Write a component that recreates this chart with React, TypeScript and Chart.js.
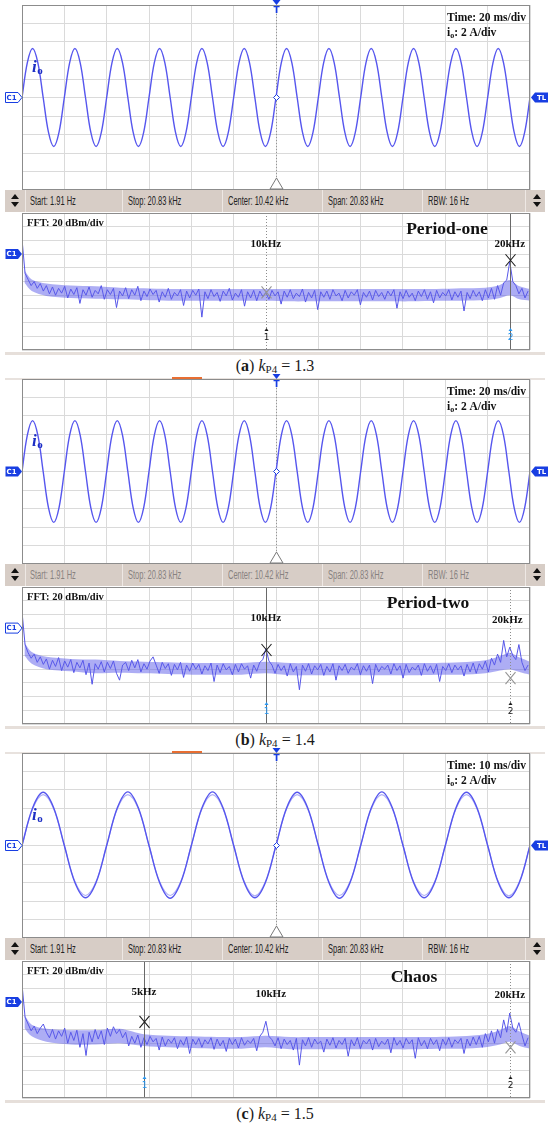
import React, { useEffect, useRef } from "react";
import { Chart, registerables } from "chart.js";

Chart.register(...registerables);

const TRACE_BLUE = "rgb(86,86,238)";
const FFT_BLUE = "rgba(78,78,232,0.95)";
const BAND_FILL = "rgba(92,92,234,0.5)";
const TAG_BLUE = "rgb(24,62,226)";
const LABEL_BLUE = "rgb(28,46,196)";
const MARK_NUM_BLUE = "rgb(40,150,240)";
const GRID_GRAY = "rgb(218,218,218)";
const FRAME_GRAY = "rgb(140,140,140)";
const BAR_BG = "rgb(215,205,198)";
const SERIF = "'Liberation Serif', 'Times New Roman', serif";

// ---------- time domain: i_o samples every 2.5 ms (A) ----------
const TIME_SAMPLE_MS = 2.5;
const TIME_DIV_MS = [20, 20, 10];
const IO_A = [
  0, 3.75, 5.3, 3.75, 0, -3.75, -5.3, -3.75,
  0, 3.75, 5.3, 3.75, 0, -3.75, -5.3, -3.75,
  0, 3.75, 5.3, 3.75, 0, -3.75, -5.3, -3.75,
  0, 3.75, 5.3, 3.75, 0, -3.75, -5.3, -3.75,
  0, 3.75, 5.3, 3.75, 0, -3.75, -5.3, -3.75,
  0, 3.75, 5.3, 3.75, 0, -3.75, -5.3, -3.75,
  0, 3.75, 5.3, 3.75, 0, -3.75, -5.3, -3.75,
  0, 3.75, 5.3, 3.75, 0, -3.75, -5.3, -3.75,
  0, 3.75, 5.3, 3.75, 0, -3.75, -5.3, -3.75,
  0, 3.75, 5.3, 3.75, 0, -3.75, -5.3, -3.75,
  0, 3.75, 5.3, 3.75, 0, -3.75, -5.3, -3.75,
  0, 3.75, 5.3, 3.75, 0, -3.75, -5.3, -3.75,
  0,
];
const IO_B = [
  0, 3.9, 5.5, 3.9, 0, -3.9, -5.5, -3.9,
  0, 3.9, 5.5, 3.9, 0, -3.9, -5.5, -3.9,
  0, 3.9, 5.5, 3.9, 0, -3.9, -5.5, -3.9,
  0, 3.9, 5.5, 3.9, 0, -3.9, -5.5, -3.9,
  0, 3.9, 5.5, 3.9, 0, -3.9, -5.5, -3.9,
  0, 3.9, 5.5, 3.9, 0, -3.9, -5.5, -3.9,
  0, 3.9, 5.5, 3.9, 0, -3.9, -5.5, -3.9,
  0, 3.9, 5.5, 3.9, 0, -3.9, -5.5, -3.9,
  0, 3.9, 5.5, 3.9, 0, -3.9, -5.5, -3.9,
  0, 3.9, 5.5, 3.9, 0, -3.9, -5.5, -3.9,
  0, 3.9, 5.5, 3.9, 0, -3.9, -5.5, -3.9,
  0, 3.9, 5.5, 3.9, 0, -3.9, -5.5, -3.9,
  0,
];
const IO_C_OUTER = [
  0, 4.05, 5.75, 4.05, 0, -4.0, -5.65, -4.0,
  0, 4.05, 5.8, 4.05, 0, -4.0, -5.7, -4.0,
  0, 4.05, 5.8, 4.05, 0, -4.0, -5.65, -4.0,
  0, 4.05, 5.75, 4.05, 0, -4.0, -5.7, -4.0,
  0, 4.05, 5.8, 4.05, 0, -4.0, -5.65, -4.0,
  0, 4.05, 5.75, 4.05, 0, -4.0, -5.65, -4.0,
  0,
];
const IO_C_INNER = [
  0, 3.95, 5.5, 3.95, 0, -3.9, -5.4, -3.9,
  0, 3.95, 5.5, 3.95, 0, -3.9, -5.4, -3.9,
  0, 3.95, 5.5, 3.95, 0, -3.9, -5.45, -3.9,
  0, 3.95, 5.5, 3.95, 0, -3.9, -5.4, -3.9,
  0, 3.95, 5.5, 3.95, 0, -3.9, -5.4, -3.9,
  0, 3.95, 5.5, 3.95, 0, -3.9, -5.45, -3.9,
  0,
];

// ---------- FFT spectra: bins every 0.125 kHz (dBm, 20 dBm/div) ----------
const FFT_SPAN_KHZ = 20.83;
const FFT_BIN_KHZ = 0.125;
const FFT_A = [
  2, -48, -57, -66, -60, -70, -63, -74, -66, -78,
  -68, -80, -70, -77, -67, -84, -71, -79, -69, -92,
  -72, -80, -68, -83, -73, -78, -66, -86, -72, -79,
  -70, -98, -74, -81, -69, -85, -72, -80, -67, -88,
  -74, -82, -71, -79, -73, -90, -75, -83, -70, -86,
  -76, -81, -72, -95, -74, -84, -73, -80, -71, -112,
  -75, -85, -72, -82, -76, -89, -74, -81, -70, -87,
  -77, -83, -72, -96, -75, -84, -73, -88, -74, -82,
  -76, -86, -73, -81, -75, -93, -74, -83, -72, -85,
  -77, -82, -71, -90, -76, -84, -73, -101, -75, -83,
  -74, -86, -72, -81, -77, -88, -73, -84, -75, -80,
  -72, -94, -76, -83, -74, -87, -73, -82, -76, -86,
  -74, -81, -72, -99, -75, -85, -73, -83, -77, -88,
  -74, -82, -72, -86, -75, -91, -73, -84, -76, -81,
  -72, -87, -75, -83, -74, -103, -76, -85, -73, -82,
  -75, -88, -72, -84, -70, -86, -66, -80, -62, -58,
  -31, -60, -66, -78, -70, -84, -74,
];
const FFT_B = [
  4, -44, -56, -64, -58, -70, -62, -73, -65, -80,
  -67, -76, -63, -82, -68, -77, -66, -85, -70, -78,
  -67, -88, -71, -102, -72, -80, -69, -84, -70, -79,
  -68, -86, -96, -74, -70, -82, -67, -78, -66, -84,
  -72, -80, -68, -62, -74, -86, -70, -79, -72, -89,
  -73, -81, -70, -92, -74, -83, -71, -80, -73, -87,
  -75, -82, -71, -98, -74, -85, -72, -81, -76, -88,
  -73, -84, -72, -80, -75, -93, -74, -83, -70, -66,
  -50, -68, -74, -86, -73, -82, -75, -90, -72, -84,
  -76, -110, -74, -83, -72, -87, -75, -81, -73, -89,
  -76, -84, -72, -96, -75, -82, -73, -86, -77, -81,
  -72, -88, -75, -83, -74, -101, -73, -84, -76, -80,
  -74, -87, -72, -82, -75, -93, -73, -85, -77, -81,
  -74, -89, -72, -83, -75, -86, -73, -98, -76, -82,
  -72, -85, -74, -81, -75, -90, -73, -84, -71, -86,
  -72, -80, -68, -84, -64, -74, -58, -70, -38, -62,
  -48, -60, -66, -44, -70, -82, -74,
];
const FFT_C = [
  6, -42, -52, -62, -55, -66, -58, -52, -64, -72,
  -60, -74, -62, -70, -58, -80, -64, -76, -61, -86,
  -66, -98, -64, -78, -60, -74, -62, -82, -58, -70,
  -56, -66, -60, -72, -64, -84, -70, -80, -68, -86,
  -72, -82, -70, -78, -73, -90, -71, -84, -74, -80,
  -72, -88, -75, -83, -71, -95, -74, -82, -73, -86,
  -75, -81, -72, -89, -74, -84, -76, -92, -73, -82,
  -74, -87, -72, -83, -76, -80, -73, -91, -70, -64,
  -48, -70, -75, -84, -72, -88, -74, -82, -76, -90,
  -73, -112, -75, -84, -72, -86, -74, -81, -77, -93,
  -74, -83, -72, -87, -76, -82, -73, -99, -75, -84,
  -72, -88, -76, -81, -74, -90, -73, -85, -77, -82,
  -74, -94, -72, -83, -76, -87, -73, -81, -75, -102,
  -72, -84, -76, -88, -73, -82, -75, -91, -74, -83,
  -72, -86, -75, -80, -73, -95, -74, -84, -71, -82,
  -70, -86, -66, -78, -62, -80, -60, -72, -46, -64,
  -36, -58, -64, -50, -68, -84, -72,
];

// dense noise band (upper / lower edge, dBm) at these frequencies (kHz)
const BAND_KHZ = [0.1, 0.4, 1, 2, 3, 4, 5, 6, 7, 8, 9, 10, 11, 12, 13, 14, 15, 16, 17, 18, 19, 19.6, 20, 20.4, 20.83];
const BAND_HI_A = [-44, -57, -63, -66, -67, -69, -70, -71, -71, -71, -71, -71, -71, -71, -71, -71, -71, -71, -71, -70, -69, -65, -58, -67, -71];
const BAND_LO_A = [-62, -74, -81, -84, -85, -86, -87, -88, -88, -88, -88, -88, -89, -89, -89, -89, -89, -89, -88, -88, -87, -84, -80, -86, -88];
const BAND_HI_B = [-41, -55, -62, -65, -66, -68, -69, -70, -71, -71, -71, -69, -71, -71, -71, -71, -71, -71, -71, -70, -67, -61, -56, -63, -69];
const BAND_LO_B = [-60, -72, -80, -83, -86, -85, -86, -87, -88, -88, -88, -86, -89, -89, -89, -89, -89, -89, -88, -88, -86, -82, -80, -84, -88];
const BAND_HI_C = [-39, -53, -59, -61, -61, -59, -67, -69, -70, -71, -71, -69, -71, -71, -71, -71, -71, -71, -71, -70, -67, -61, -55, -63, -69];
const BAND_LO_C = [-58, -70, -78, -82, -82, -80, -84, -86, -87, -88, -88, -86, -89, -89, -89, -89, -89, -89, -88, -88, -86, -82, -78, -84, -88];

// markers (frequency kHz, level dBm), the active one is drawn solid
const MARK_FREQ_A = [10, 20];
const MARK_DBM_A = [-76, -29];
const MARK_FREQ_B = [10, 20];
const MARK_DBM_B = [-52, -93];
const MARK_FREQ_C = [5, 20];
const MARK_DBM_C = [-49, -86];
const ACTIVE_MARK = [2, 1, 1];

const PEAK_TEXT_A = ["10kHz", "20kHz"];
const PEAK_FREQ_A = [10, 20];
const PEAK_DBM_A = [-6, -6];
const PEAK_TEXT_B = ["10kHz", "20kHz"];
const PEAK_FREQ_B = [10, 19.9];
const PEAK_DBM_B = [-6, -8];
const PEAK_TEXT_C = ["5kHz", "10kHz", "20kHz"];
const PEAK_FREQ_C = [5, 10.2, 20];
const PEAK_DBM_C = [-6, -8, -10];

const REGIME = ["Period-one", "Period-two", "Chaos"];
const LETTERS = ["a", "b", "c"];
const KP4 = ["1.3", "1.4", "1.5"];
const BAR_TEXT = ["Start: 1.91 Hz", "Stop: 20.83 kHz", "Center: 10.42 kHz", "Span: 20.83 kHz", "RBW: 16 Hz"];

function drawTag(ctx: CanvasRenderingContext2D, tipX: number, cy: number, dir: number, filled: boolean, text: string) {
  const bodyW = 13, pt = 4, h = 10;
  ctx.save();
  ctx.beginPath();
  if (dir === 1) {
    const x0 = tipX - pt - bodyW;
    ctx.moveTo(x0 + 0.5, cy - h / 2);
    ctx.lineTo(tipX - pt, cy - h / 2);
    ctx.lineTo(tipX, cy);
    ctx.lineTo(tipX - pt, cy + h / 2);
    ctx.lineTo(x0 + 0.5, cy + h / 2);
  } else {
    const x1 = tipX + pt + bodyW;
    ctx.moveTo(x1, cy - h / 2);
    ctx.lineTo(tipX + pt, cy - h / 2);
    ctx.lineTo(tipX, cy);
    ctx.lineTo(tipX + pt, cy + h / 2);
    ctx.lineTo(x1, cy + h / 2);
  }
  ctx.closePath();
  if (filled) {
    ctx.fillStyle = TAG_BLUE;
    ctx.fill();
  } else {
    ctx.fillStyle = "#fff";
    ctx.fill();
    ctx.strokeStyle = TAG_BLUE;
    ctx.lineWidth = 1;
    ctx.stroke();
  }
  ctx.fillStyle = filled ? "#fff" : TAG_BLUE;
  ctx.font = "bold 7px 'DejaVu Sans', sans-serif";
  ctx.textAlign = "center";
  ctx.textBaseline = "middle";
  const cx = dir === 1 ? tipX - pt - bodyW / 2 : tipX + pt + bodyW / 2;
  ctx.fillText(text, cx, cy + 0.5);
  ctx.restore();
}

function frame(ctx: CanvasRenderingContext2D, a: any) {
  ctx.save();
  ctx.strokeStyle = FRAME_GRAY;
  ctx.lineWidth = 1;
  ctx.strokeRect(Math.round(a.left) + 0.5, Math.round(a.top) + 0.5, Math.round(a.right - a.left) - 1, Math.round(a.bottom - a.top) - 1);
  ctx.restore();
}

type TimeProps = { top: number; traces: number[][]; divMs: number; ciFilled: boolean };

function TimeScope({ top, traces, divMs, ciFilled }: TimeProps) {
  const ref = useRef<HTMLCanvasElement>(null);
  useEffect(() => {
    const canvas = ref.current!;
    const overlay = {
      id: "timeOverlay",
      beforeDatasetsDraw(chart: any) {
        const { ctx, chartArea: a } = chart;
        const cx = Math.round((a.left + a.right) / 2) + 0.5;
        ctx.save();
        ctx.strokeStyle = "rgb(150,150,150)";
        ctx.setLineDash([1, 2]);
        ctx.beginPath();
        ctx.moveTo(cx, a.top);
        ctx.lineTo(cx, a.bottom);
        ctx.stroke();
        ctx.restore();
      },
      afterDraw(chart: any) {
        const { ctx, chartArea: a, scales } = chart;
        const y0 = scales.y.getPixelForValue(0);
        const cx = Math.round((a.left + a.right) / 2) + 0.5;
        frame(ctx, a);
        ctx.save();
        ctx.fillStyle = TAG_BLUE;
        ctx.beginPath();
        ctx.moveTo(cx - 4, a.top - 5);
        ctx.lineTo(cx + 4, a.top - 5);
        ctx.lineTo(cx, a.top);
        ctx.closePath();
        ctx.fill();
        ctx.font = "bold 9px 'DejaVu Sans', sans-serif";
        ctx.textAlign = "center";
        ctx.textBaseline = "middle";
        ctx.fillText("T", cx, a.top + 6);
        ctx.strokeStyle = TAG_BLUE;
        ctx.fillStyle = "#fff";
        ctx.beginPath();
        ctx.moveTo(cx, y0 - 3);
        ctx.lineTo(cx + 3, y0);
        ctx.lineTo(cx, y0 + 3);
        ctx.lineTo(cx - 3, y0);
        ctx.closePath();
        ctx.fill();
        ctx.stroke();
        ctx.strokeStyle = "rgb(120,120,120)";
        ctx.beginPath();
        ctx.moveTo(cx, a.bottom - 12);
        ctx.lineTo(cx + 6.5, a.bottom - 1);
        ctx.lineTo(cx - 6.5, a.bottom - 1);
        ctx.closePath();
        ctx.fill();
        ctx.stroke();
        ctx.restore();
        drawTag(ctx, a.left, y0, 1, ciFilled, "C1");
        drawTag(ctx, a.right + 1, y0, -1, true, "TL");
        ctx.save();
        ctx.fillStyle = "#111";
        ctx.textBaseline = "alphabetic";
        ctx.textAlign = "left";
        ctx.font = `bold 11.5px ${SERIF}`;
        const tx = a.left + 425;
        ctx.fillText(`Time: ${divMs} ms/div`, tx, a.top + 16);
        ctx.fillText("i", tx, a.top + 31);
        const iw = ctx.measureText("i").width;
        ctx.font = `bold 8px ${SERIF}`;
        ctx.fillText("o", tx + iw, a.top + 33);
        const ow = ctx.measureText("o").width;
        ctx.font = `bold 11.5px ${SERIF}`;
        ctx.fillText(": 2 A/div", tx + iw + ow, a.top + 31);
        ctx.fillStyle = LABEL_BLUE;
        ctx.font = `italic bold 17px ${SERIF}`;
        ctx.fillText("i", a.left + 10, a.top + 67);
        const w = ctx.measureText("i").width;
        ctx.font = `bold 11px ${SERIF}`;
        ctx.fillText("o", a.left + 10 + w + 0.5, a.top + 69);
        ctx.restore();
      },
    };
    const span = divMs * 12;
    const chart = new Chart(canvas, {
      type: "line",
      data: {
        datasets: traces.map((tr, k) => ({
          data: tr.map((v, i) => ({ x: i * TIME_SAMPLE_MS, y: v })),
          borderColor: k === 0 ? TRACE_BLUE : "rgba(120,120,240,0.6)",
          borderWidth: k === 0 ? 1.4 : 1.1,
          pointRadius: 0,
          tension: 0.35,
          fill: false,
        })),
      },
      options: {
        animation: false,
        responsive: false,
        events: [],
        layout: { padding: { left: 22, right: 20, top: 5, bottom: 2 } },
        plugins: { legend: { display: false }, tooltip: { enabled: false } },
        scales: {
          x: {
            type: "linear",
            min: 0,
            max: span,
            ticks: { display: false, stepSize: divMs },
            grid: { color: GRID_GRAY, drawTicks: false },
            border: { display: false },
          },
          y: {
            type: "linear",
            min: -10,
            max: 10,
            ticks: { display: false, stepSize: 2 },
            grid: { color: GRID_GRAY, drawTicks: false },
            border: { display: false },
          },
        },
      },
      plugins: [overlay],
    } as any);
    return () => chart.destroy();
  }, []);
  return (
    <canvas
      ref={ref}
      width={550}
      height={192}
      style={{ position: "absolute", left: 0, top: top - 5, width: 550, height: 192 }}
    />
  );
}

type FftProps = {
  top: number;
  values: number[];
  bandHi: number[];
  bandLo: number[];
  markFreq: number[];
  markDbm: number[];
  active: number;
  peakText: string[];
  peakFreq: number[];
  peakDbm: number[];
  regime: string;
  ciFilled: boolean;
  regimeX: number;
};

function FftScope(p: FftProps) {
  const ref = useRef<HTMLCanvasElement>(null);
  useEffect(() => {
    const canvas = ref.current!;
    const overlay = {
      id: "fftOverlay",
      afterDatasetsDraw(chart: any) {
        const { ctx, chartArea: a, scales } = chart;
        ctx.save();
        p.markFreq.forEach((f, i) => {
          const x = Math.round(scales.x.getPixelForValue(f)) + 0.5;
          const isActive = i + 1 === p.active;
          ctx.strokeStyle = isActive ? "rgb(105,105,105)" : "rgb(140,140,140)";
          ctx.lineWidth = 1;
          ctx.setLineDash(isActive ? [] : [1, 2]);
          ctx.beginPath();
          ctx.moveTo(x, a.top);
          ctx.lineTo(x, a.bottom);
          ctx.stroke();
        });
        ctx.restore();
      },
      afterDraw(chart: any) {
        const { ctx, chartArea: a, scales } = chart;
        frame(ctx, a);
        ctx.save();
        p.markFreq.forEach((f, i) => {
          const x = Math.round(scales.x.getPixelForValue(f)) + 0.5;
          const y = scales.y.getPixelForValue(p.markDbm[i]);
          const isActive = i + 1 === p.active;
          ctx.strokeStyle = isActive ? "rgb(30,30,30)" : "rgb(150,150,150)";
          ctx.lineWidth = 1.1;
          ctx.beginPath();
          ctx.moveTo(x - 5, y - 6);
          ctx.quadraticCurveTo(x, y, x + 5, y + 6);
          ctx.moveTo(x + 5, y - 6);
          ctx.quadraticCurveTo(x, y, x - 5, y + 6);
          ctx.stroke();
          const col = isActive ? MARK_NUM_BLUE : "rgb(30,30,30)";
          ctx.fillStyle = col;
          ctx.beginPath();
          ctx.moveTo(x, a.bottom - 22);
          ctx.lineTo(x + 2, a.bottom - 19);
          ctx.lineTo(x - 2, a.bottom - 19);
          ctx.closePath();
          ctx.fill();
          ctx.font = "9px 'DejaVu Sans', sans-serif";
          ctx.textAlign = "center";
          ctx.textBaseline = "middle";
          ctx.fillText(String(i + 1), x, a.bottom - 12);
        });
        ctx.fillStyle = "#111";
        ctx.font = `bold 11px ${SERIF}`;
        ctx.textAlign = "center";
        ctx.textBaseline = "middle";
        p.peakText.forEach((t, i) => {
          ctx.fillText(t, scales.x.getPixelForValue(p.peakFreq[i]), scales.y.getPixelForValue(p.peakDbm[i]));
        });
        ctx.font = `bold 17.5px ${SERIF}`;
        ctx.fillText(p.regime, p.regimeX, a.top + 16);
        ctx.textAlign = "left";
        ctx.font = `bold 10.5px ${SERIF}`;
        ctx.fillText("FFT: 20 dBm/div", a.left + 5, a.top + 10);
        ctx.restore();
        drawTag(ctx, a.left, scales.y.getPixelForValue(-20), 1, p.ciFilled, "C1");
      },
    };
    const chart = new Chart(canvas, {
      type: "line",
      data: {
        datasets: [
          {
            data: BAND_KHZ.map((f, i) => ({ x: f, y: p.bandHi[i] })),
            borderWidth: 0,
            borderColor: "rgba(0,0,0,0)",
            backgroundColor: BAND_FILL,
            pointRadius: 0,
            tension: 0.3,
            fill: "+1",
          },
          {
            data: BAND_KHZ.map((f, i) => ({ x: f, y: p.bandLo[i] })),
            borderWidth: 0,
            borderColor: "rgba(0,0,0,0)",
            pointRadius: 0,
            tension: 0.3,
            fill: false,
          },
          {
            data: p.values.map((v, i) => ({ x: i * FFT_BIN_KHZ, y: v })),
            borderColor: FFT_BLUE,
            borderWidth: 1,
            pointRadius: 0,
            tension: 0,
            fill: false,
          },
        ],
      },
      options: {
        animation: false,
        responsive: false,
        events: [],
        layout: { padding: { left: 22, right: 20, top: 2, bottom: 2 } },
        plugins: { legend: { display: false }, tooltip: { enabled: false } },
        scales: {
          x: {
            type: "linear",
            min: 0,
            max: FFT_SPAN_KHZ,
            afterBuildTicks: (s: any) => {
              s.ticks = Array.from({ length: 13 }, (_, i) => ({ value: (i * FFT_SPAN_KHZ) / 12 }));
            },
            ticks: { display: false },
            grid: { color: GRID_GRAY, drawTicks: false },
            border: { display: false },
          },
          y: {
            type: "linear",
            min: -160,
            max: 40,
            ticks: { display: false, stepSize: 20 },
            grid: { color: GRID_GRAY, drawTicks: false },
            border: { display: false },
          },
        },
      },
      plugins: [overlay],
    } as any);
    return () => chart.destroy();
  }, []);
  return (
    <canvas
      ref={ref}
      width={550}
      height={141}
      style={{ position: "absolute", left: 0, top: p.top + 206, width: 550, height: 141 }}
    />
  );
}

function Arrows({ left }: { left: number }) {
  return (
    <svg width={10} height={14} style={{ position: "absolute", left, top: 4 }}>
      <polygon points="5,0 9,5 1,5" fill="#111" />
      <polygon points="1,8 9,8 5,13" fill="#111" />
    </svg>
  );
}

function StatusBar({ top, dim }: { top: number; dim: boolean }) {
  const seps = [20, 117, 217, 317, 417, 520];
  const textX = [25, 123, 223, 323, 423];
  return (
    <div style={{ position: "absolute", left: 5, top: top + 185, width: 540, height: 22, background: BAR_BG }}>
      {seps.map((s, i) => (
        <div key={i} style={{ position: "absolute", left: s, top: 0, width: 1, height: 22, background: "rgb(238,232,228)" }} />
      ))}
      <Arrows left={5} />
      <Arrows left={527} />
      {BAR_TEXT.map((t, i) => (
        <div
          key={t}
          style={{
            position: "absolute",
            left: textX[i],
            top: 0,
            height: 22,
            lineHeight: "22px",
            fontFamily: "'Liberation Sans', Arial, sans-serif",
            fontSize: 12.5,
            whiteSpace: "nowrap",
            color: dim ? "rgb(135,130,128)" : "rgb(35,35,35)",
            transform: "scaleX(0.6)",
            transformOrigin: "left center",
          }}
        >
          {t}
        </div>
      ))}
    </div>
  );
}

function Caption({ top, letter, value }: { top: number; letter: string; value: string }) {
  return (
    <div
      style={{
        position: "absolute",
        left: 0,
        width: 550,
        top: top + 351,
        height: 20,
        lineHeight: "20px",
        textAlign: "center",
        fontFamily: SERIF,
        fontSize: 16,
        color: "#1a1a1a",
        whiteSpace: "nowrap",
      }}
    >
      (<b>{letter}</b>) <i>k</i>
      <span style={{ fontSize: 11, position: "relative", top: 2 }}>P4</span> = {value}
    </div>
  );
}

function Panel(props: {
  idx: number;
  top: number;
  traces: number[][];
  fft: number[];
  bandHi: number[];
  bandLo: number[];
  markFreq: number[];
  markDbm: number[];
  peakText: string[];
  peakFreq: number[];
  peakDbm: number[];
  ciTop: boolean;
  ciFft: boolean;
  regimeX: number;
}) {
  const { idx, top } = props;
  return (
    <>
      {idx > 0 && (
        <>
          <div style={{ position: "absolute", left: 5, top: top - 1, width: 540, height: 2, background: "rgb(232,226,222)" }} />
          <div style={{ position: "absolute", left: 172, top: top - 2, width: 30, height: 2, background: "rgb(232,110,50)" }} />
        </>
      )}
      <TimeScope top={top} traces={props.traces} divMs={TIME_DIV_MS[idx]} ciFilled={props.ciTop} />
      <StatusBar top={top} dim={idx === 1} />
      <FftScope
        top={top}
        values={props.fft}
        bandHi={props.bandHi}
        bandLo={props.bandLo}
        markFreq={props.markFreq}
        markDbm={props.markDbm}
        active={ACTIVE_MARK[idx]}
        peakText={props.peakText}
        peakFreq={props.peakFreq}
        peakDbm={props.peakDbm}
        regime={REGIME[idx]}
        ciFilled={props.ciFft}
        regimeX={props.regimeX}
      />
      <div style={{ position: "absolute", left: 5, top: top + 347, width: 540, height: 3, background: "rgb(230,223,218)" }} />
      <Caption top={top} letter={LETTERS[idx]} value={KP4[idx]} />
    </>
  );
}

export default function App() {
  return (
    <div style={{ position: "absolute", left: 0, top: 0, width: 550, height: 1126, background: "#fff", overflow: "hidden" }}>
      <Panel
        idx={0}
        top={5}
        traces={[IO_A]}
        fft={FFT_A}
        bandHi={BAND_HI_A}
        bandLo={BAND_LO_A}
        markFreq={MARK_FREQ_A}
        markDbm={MARK_DBM_A}
        peakText={PEAK_TEXT_A}
        peakFreq={PEAK_FREQ_A}
        peakDbm={PEAK_DBM_A}
        ciTop={false}
        ciFft={true}
        regimeX={447}
      />
      <Panel
        idx={1}
        top={379}
        traces={[IO_B]}
        fft={FFT_B}
        bandHi={BAND_HI_B}
        bandLo={BAND_LO_B}
        markFreq={MARK_FREQ_B}
        markDbm={MARK_DBM_B}
        peakText={PEAK_TEXT_B}
        peakFreq={PEAK_FREQ_B}
        peakDbm={PEAK_DBM_B}
        ciTop={true}
        ciFft={false}
        regimeX={428}
      />
      <Panel
        idx={2}
        top={753}
        traces={[IO_C_OUTER, IO_C_INNER]}
        fft={FFT_C}
        bandHi={BAND_HI_C}
        bandLo={BAND_LO_C}
        markFreq={MARK_FREQ_C}
        markDbm={MARK_DBM_C}
        peakText={PEAK_TEXT_C}
        peakFreq={PEAK_FREQ_C}
        peakDbm={PEAK_DBM_C}
        ciTop={false}
        ciFft={true}
        regimeX={414}
      />
    </div>
  );
}
